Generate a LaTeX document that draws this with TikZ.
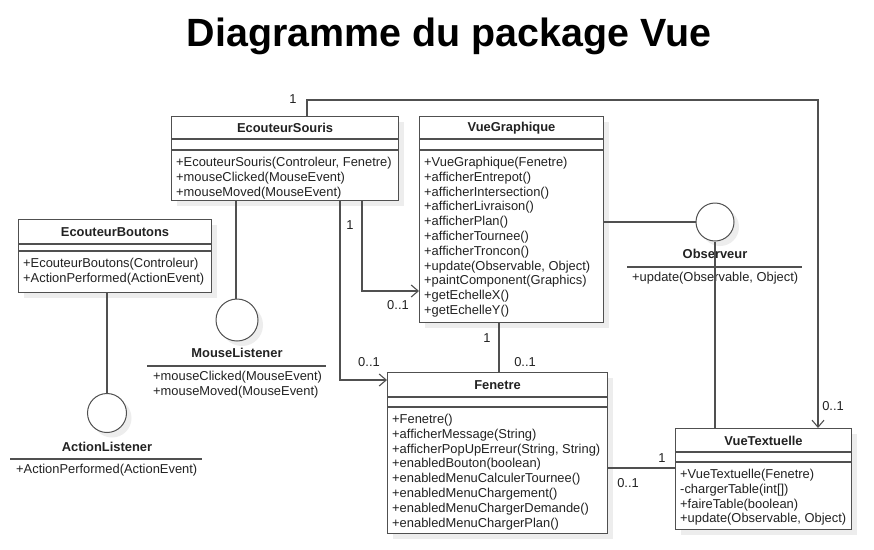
\documentclass[tikz,border=0pt]{standalone}
\usepackage{fontspec}
\setmainfont{Liberation Sans}
\usetikzlibrary{arrows.meta,calc}
\definecolor{linec}{HTML}{505050}
\definecolor{textc}{HTML}{222222}
\definecolor{shadc}{HTML}{EDEDED}
\tikzset{
  ln/.style={draw=linec, line width=1.1pt},
  arr/.style={-{Straight Barb[length=7pt,width=12pt]}},
  boxn/.style={draw=linec, line width=1.1pt, fill=white, anchor=north west, inner sep=0pt},
  ttl/.style={font=\bfseries\fontsize{12.9}{15}\selectfont, text=textc, inner sep=0pt},
  mth/.style={font=\fontsize{12.9}{14.8}\selectfont, text=textc, align=left, anchor=north west, inner sep=0pt},
  mult/.style={font=\fontsize{12.9}{15}\selectfont, text=textc, inner sep=0pt},
  lolli/.style={circle, draw=linec, line width=1pt, fill=white, inner sep=0pt},
}
% #1 name, #2 x, #3 y, #4 w, #5 h, #6 sep1, #7 sep2, #8 title, #9 methods
\newcommand\umlcls[9]{%
  \fill[shadc] (#2+6,#3+6) rectangle ++(#4,#5);
  \node[boxn, minimum width=#4pt, minimum height=#5pt] (#1) at (#2,#3) {};
  \node[ttl] (#1-t) at ($(#1.north)+(0,#6/2+0.5)$) {#8};
  \draw[ln] ($(#1.north west)+(0,#6)$) -- ($(#1.north east)+(0,#6)$);
  \draw[ln] ($(#1.north west)+(0,#7)$) -- ($(#1.north east)+(0,#7)$);
  \node[mth] (#1-m) at ($(#1.north west)+(5,#7+7)$) {#9};
}
\begin{document}
\begin{tikzpicture}[x=1pt,y=-1pt]
\useasboundingbox[fill=white] (0,0) rectangle (874,549);

\node[font=\bfseries\fontsize{39.4}{44}\selectfont, inner sep=0pt] (title) at (449,36) {Diagramme du package Vue};

% classes
\umlcls{es}{171}{116}{227}{84}{23}{34}{EcouteurSouris}{+EcouteurSouris(Controleur, Fenetre)\\+mouseClicked(MouseEvent)\\+mouseMoved(MouseEvent)}
\umlcls{vg}{419}{116}{184}{206}{23}{34}{VueGraphique}{+VueGraphique(Fenetre)\\+afficherEntrepot()\\+afficherIntersection()\\+afficherLivraison()\\+afficherPlan()\\+afficherTournee()\\+afficherTroncon()\\+update(Observable, Object)\\+paintComponent(Graphics)\\+getEchelleX()\\+getEchelleY()}
\umlcls{eb}{18}{219}{193}{73}{25}{32}{EcouteurBoutons}{+EcouteurBoutons(Controleur)\\+ActionPerformed(ActionEvent)}
\umlcls{fen}{387}{372}{220}{161}{25}{35}{Fenetre}{\fontsize{12.9}{15.2}\selectfont +Fenetre()\\+afficherMessage(String)\\+afficherPopUpErreur(String, String)\\+enabledBouton(boolean)\\+enabledMenuCalculerTournee()\\+enabledMenuChargement()\\+enabledMenuChargerDemande()\\+enabledMenuChargerPlan()}
\umlcls{vt}{675}{428}{176}{101}{24}{34}{VueTextuelle}{+VueTextuelle(Fenetre)\\-chargerTable(int[])\\+faireTable(boolean)\\+update(Observable, Object)}

% interfaces
\fill[shadc] (242,325) circle (21);
\node[lolli, minimum size=42pt] (ml) at (237,320) {};
\node[ttl] (ml-t) at (237,353) {MouseListener};
\coordinate (ml-l1) at (147,366); \coordinate (ml-l2) at (326,366);
\draw[ln] (ml-l1) -- (ml-l2);
\node[mth] (ml-m) at (153,371) {+mouseClicked(MouseEvent)\\+mouseMoved(MouseEvent)};

\fill[shadc] (112,418) circle (19.5);
\node[lolli, minimum size=39pt] (al) at (107,413) {};
\node[ttl] (al-t) at (107,447) {ActionListener};
\coordinate (al-l1) at (10,459); \coordinate (al-l2) at (202,459);
\draw[ln] (al-l1) -- (al-l2);
\node[mth] (al-m) at (16,464) {+ActionPerformed(ActionEvent)};

\fill[shadc] (720,227) circle (19);
\node[lolli, minimum size=38pt] (obs) at (715,222) {};
\node[ttl] (obs-t) at (715,254) {Observeur};
\coordinate (obs-l1) at (627,267); \coordinate (obs-l2) at (802,267);
\draw[ln] (obs-l1) -- (obs-l2);
\node[mth] (obs-m) at (632,272) {+update(Observable, Object)};

% connectors
\draw[ln] (al.north |- eb.south) -- (al.north);
\coordinate (esML) at ($(es.south west)+(65,0)$);
\draw[ln] (esML) -- (esML |- ml.north);
\draw[ln] (obs.west -| vg.east) -- (obs.west);
\draw[ln] (obs.south) -- (obs.south |- vt.north);

\coordinate (topy) at (0,100);
\coordinate (esTop) at ($(es.north west)+(136,0)$);
\coordinate (vtTop) at ($(vt.north west)+(143,0)$);
\draw[ln, arr] (esTop) |- (topy -| vtTop) -- (vtTop);

\coordinate (esB1) at ($(es.south west)+(191,0)$);
\coordinate (y291) at (0,291);
\draw[ln, arr] (esB1) |- (vg.west |- y291);

\coordinate (esB2) at ($(es.south west)+(169,0)$);
\coordinate (y380) at (0,380);
\draw[ln, arr] (esB2) |- (fen.west |- y380);

\coordinate (vgB) at ($(vg.south west)+(80,0)$);
\draw[ln] (vgB) -- (vgB |- fen.north);

\coordinate (y468) at (0,468);
\draw[ln] (fen.east |- y468) -- (vt.west |- y468);

% multiplicities
\node[mult] (m1) at (293,99) {1};
\node[mult] (m2) at (833,406) {0..1};
\node[mult] (m3) at (350,225) {1};
\node[mult] (m4) at (398,305) {0..1};
\node[mult] (m5) at (369,362) {0..1};
\node[mult] (m6) at (487,338) {1};
\node[mult] (m7) at (525,362) {0..1};
\node[mult] (m8) at (662,458) {1};
\node[mult] (m9) at (628,483) {0..1};
\end{tikzpicture}
\end{document}
